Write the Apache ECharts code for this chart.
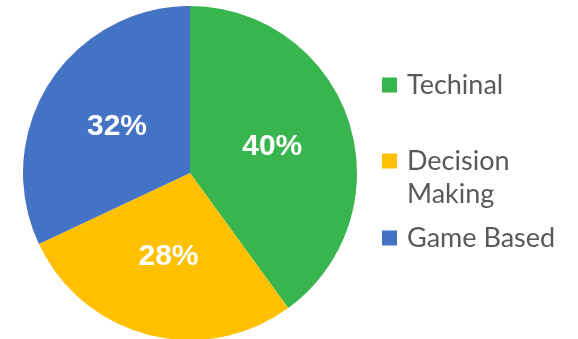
<!DOCTYPE html>
<html>
<head>
<meta charset="utf-8">
<script src="https://cdn.jsdelivr.net/npm/echarts@6/dist/echarts.min.js"></script>
<style>
  html, body { margin: 0; padding: 0; background: #fff; }
  #chart { width: 578px; height: 339px; }
</style>
</head>
<body>
<div id="chart"></div>
<script>
// Share of training approaches (percent)
const categories = ['Techinal', 'Decision Making', 'Game Based'];
const shares = [40, 28, 32];
const colors = ['#39B54F', '#FFC000', '#4472C4'];
// a leading blank line keeps the first line of a two-line label level with its swatch
const legendLabels = ['Techinal', '\nDecision\nMaking', 'Game Based'];
const legendTops = [63.5, 106.5, 216.5];

const chart = echarts.init(document.getElementById('chart'), null, { renderer: 'canvas' });

const pieData = categories.map((name, i) => ({
  name,
  value: shares[i],
  itemStyle: { color: colors[i] }
}));

// one legend block per entry so each can sit at its own height
const legends = categories.map((name, i) => ({
  orient: 'vertical',
  left: 377,
  top: legendTops[i],
  itemWidth: 15,
  itemHeight: 15,
  icon: 'rect',
  selectedMode: false,
  data: [name],
  formatter: () => legendLabels[i],
  textStyle: {
    fontFamily: 'Lato',
    fontSize: 27,
    color: '#595959',
    lineHeight: 33,
    padding: [0, 0, 0, 5]
  }
}));

chart.setOption({
  animation: false,
  legend: legends,
  series: [{
    type: 'pie',
    center: [190, 173],
    radius: 167,
    startAngle: 90,
    clockwise: true,
    data: pieData,
    label: {
      position: 'inside',
      formatter: p => p.value + '%',
      color: '#fff',
      fontFamily: 'Liberation Sans',
      fontWeight: 'bold',
      fontSize: 30
    },
    labelLine: { show: false },
    itemStyle: { borderWidth: 0 },
    emphasis: { disabled: true }
  }]
});
</script>
</body>
</html>
